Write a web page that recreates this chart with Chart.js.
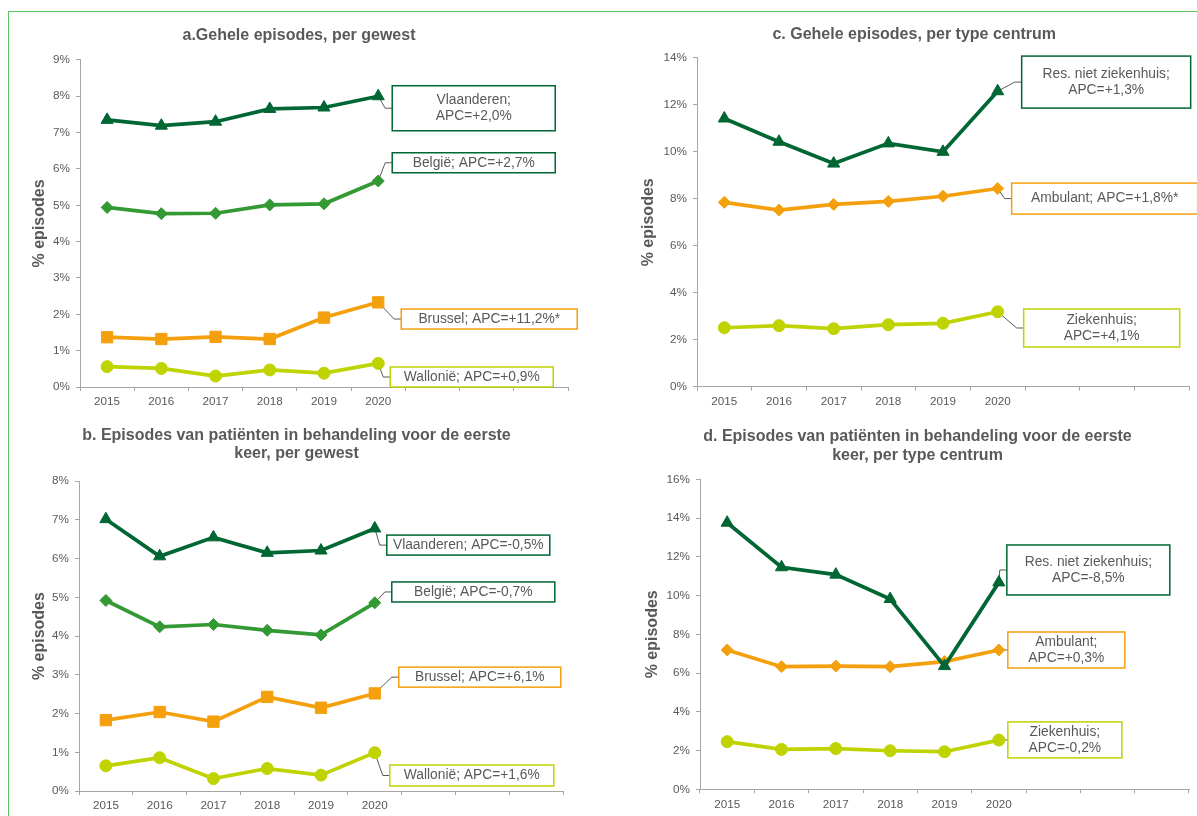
<!DOCTYPE html>
<html>
<head>
<meta charset="utf-8">
<script src="https://cdn.jsdelivr.net/npm/chart.js@4.4.1/dist/chart.umd.min.js"></script>
<style>
  html, body { margin: 0; padding: 0; background: #fff; }
  body { width: 1197px; height: 816px; position: relative; overflow: hidden; }
  #frame { position: absolute; left: 8px; top: 11px; width: 1300px; height: 900px; border: 1.5px solid #5dc05d; }
  canvas { position: absolute; }
</style>
</head>
<body>
<div id="frame"></div>
<canvas id="chartA" style="left:0px;top:14px" width="587" height="400"></canvas>
<canvas id="chartB" style="left:0px;top:420px" width="574" height="396"></canvas>
<canvas id="chartC" style="left:632px;top:14px" width="565" height="400"></canvas>
<canvas id="chartD" style="left:639px;top:420px" width="558" height="396"></canvas>
<script>
// categories (three empty slots at the end, like the original axis)
const years = ['2015', '2016', '2017', '2018', '2019', '2020', '', '', ''];

// a. Gehele episodes, per gewest
const vlaA = [7.35, 7.19, 7.30, 7.65, 7.69, 8.00];
const belA = [4.94, 4.77, 4.78, 5.01, 5.04, 5.67];
const bruA = [1.37, 1.32, 1.38, 1.32, 1.91, 2.33];
const walA = [0.56, 0.51, 0.30, 0.47, 0.38, 0.65];
const apcA = ['+2,0%', '+2,7%', '+11,2%*', '+0,9%'];

// b. eerste behandeling, per gewest
const vlaB = [7.02, 6.06, 6.55, 6.15, 6.21, 6.78];
const belB = [4.92, 4.24, 4.30, 4.15, 4.03, 4.86];
const bruB = [1.83, 2.04, 1.79, 2.43, 2.15, 2.52];
const walB = [0.65, 0.86, 0.32, 0.58, 0.41, 0.99];
const apcB = ['-0,5%', '-0,7%', '+6,1%', '+1,6%'];

// c. Gehele episodes, per type centrum
const resC = [11.42, 10.43, 9.50, 10.36, 10.00, 12.58];
const ambC = [7.85, 7.52, 7.76, 7.89, 8.11, 8.44];
const zieC = [2.51, 2.60, 2.47, 2.64, 2.70, 3.19];
const apcC = ['+1,3%', '+1,8%*', '+4,1%'];

// d. eerste behandeling, per type centrum
const resD = [13.76, 11.46, 11.08, 9.82, 6.36, 10.68];
const ambD = [7.19, 6.33, 6.36, 6.33, 6.59, 7.19];
const zieD = [2.46, 2.06, 2.10, 1.99, 1.94, 2.54];
const apcD = ['-8,5%', '+0,3%', '-0,2%'];

const gewesten = ['Vlaanderen', 'België', 'Brussel', 'Wallonië'];
const centra = ['Res. niet ziekenhuis', 'Ambulant', 'Ziekenhuis'];

const darkGreen = '#006633';
const midGreen = '#339933';
const orange = '#F4A00C';
const lime = '#BFD300';
const textGray = '#595959';
const axisGray = '#A6A6A6';
const FONT = "'Liberation Sans', Arial, sans-serif";

Chart.defaults.font.family = FONT;
Chart.defaults.color = textGray;

function series(label, data, color, style, radius) {
  return {
    label: label,
    data: data,
    borderColor: color,
    backgroundColor: color,
    pointBackgroundColor: color,
    pointBorderColor: color,
    pointStyle: style,
    pointRadius: radius,
    pointHoverRadius: radius,
    pointBorderWidth: 1,
    borderWidth: 3.7,
    tension: 0
  };
}

// label boxes with a connector from the 2020 point
function callouts(items) {
  return {
    id: 'callouts',
    beforeDatasetsDraw(chart) {
      const ctx = chart.ctx;
      const ys = chart.scales.y;
      items.forEach(it => {
        const meta = chart.getDatasetMeta(it.ds);
        const pt = meta.data[meta.data.length - 1];
        const left = pt.x + it.dx;
        const cy = ys.getPixelForValue(it.y);
        ctx.save();
        ctx.strokeStyle = textGray;
        ctx.lineWidth = 1;
        ctx.beginPath();
        ctx.moveTo(pt.x, pt.y);
        ctx.lineTo(left - 7, cy);
        ctx.lineTo(left, cy);
        ctx.stroke();
        ctx.restore();
      });
    },
    afterDatasetsDraw(chart) {
      const ctx = chart.ctx;
      const ys = chart.scales.y;
      items.forEach(it => {
        const meta = chart.getDatasetMeta(it.ds);
        const pt = meta.data[meta.data.length - 1];
        const left = pt.x + it.dx;
        const cy = ys.getPixelForValue(it.y);
        const top = cy - it.h / 2;
        ctx.save();
        ctx.fillStyle = '#fff';
        ctx.fillRect(left, top, it.w, it.h);
        ctx.strokeStyle = it.color;
        ctx.lineWidth = 1.5;
        ctx.strokeRect(left, top, it.w, it.h);
        ctx.fillStyle = textGray;
        ctx.font = '13.8px ' + FONT;
        ctx.textAlign = 'center';
        ctx.textBaseline = 'middle';
        const lh = 15.8;
        it.lines.forEach((ln, i) => {
          ctx.fillText(ln, left + it.w / 2, cy + (i - (it.lines.length - 1) / 2) * lh);
        });
        ctx.restore();
      });
    }
  };
}

function makeChart(id, g) {
  new Chart(document.getElementById(id), {
    type: 'line',
    data: { labels: years, datasets: g.datasets },
    options: {
      responsive: false,
      animation: false,
      layout: { padding: { left: g.padLeft, right: g.padRight, top: 0, bottom: 0 } },
      plugins: {
        legend: { display: false },
        tooltip: { enabled: false },
        title: {
          display: true,
          text: g.title,
          color: textGray,
          font: { size: 16, weight: 'bold', lineHeight: 1.15 },
          padding: { top: g.titleTop, bottom: g.titleBottom }
        }
      },
      scales: {
        x: {
          offset: true,
          grid: { offset: true, drawOnChartArea: false, drawTicks: true, tickLength: 4, color: axisGray },
          border: { display: true, color: axisGray, width: 1 },
          ticks: { autoSkip: false, maxRotation: 0, padding: 4, color: textGray, font: { size: 11.7 } },
          afterFit(s) { s.height = g.xHeight; }
        },
        y: {
          min: 0,
          max: g.max,
          grid: { drawOnChartArea: false, drawTicks: true, tickLength: 4, color: axisGray },
          border: { display: true, color: axisGray, width: 1 },
          ticks: { stepSize: g.step, padding: 6, color: textGray, font: { size: 11.7 },
                   callback: v => v + '%' },
          title: { display: true, text: '% episodes', color: textGray, padding: 0,
                   font: { size: 16, weight: 'bold' } },
          afterFit(s) { s.width = g.yWidth; }
        }
      }
    },
    plugins: [callouts(g.boxes)]
  });
}

makeChart('chartA', {
  title: 'a.Gehele episodes, per gewest',
  max: 9, step: 1,
  padLeft: 30, yWidth: 50, padRight: 19, titleTop: 12, titleBottom: 15.5, xHeight: 27,
  datasets: [
    series(gewesten[0], vlaA, darkGreen, 'triangle', 7),
    series(gewesten[1], belA, midGreen, 'rectRot', 6),
    series(gewesten[2], bruA, orange, 'rect', 8),
    series(gewesten[3], walA, lime, 'circle', 6)
  ],
  boxes: [
    { ds: 0, lines: [gewesten[0] + ';', 'APC=' + apcA[0]], y: 7.67, w: 163, h: 45, dx: 14, color: darkGreen },
    { ds: 1, lines: [gewesten[1] + '; APC=' + apcA[1]], y: 6.17, w: 163, h: 20, dx: 14, color: darkGreen },
    { ds: 2, lines: [gewesten[2] + '; APC=' + apcA[2]], y: 1.87, w: 176, h: 20, dx: 23, color: orange },
    { ds: 3, lines: [gewesten[3] + '; APC=' + apcA[3]], y: 0.275, w: 163, h: 20, dx: 12, color: lime }
  ]
});

makeChart('chartB', {
  title: ['b. Episodes van patiënten in behandeling voor de eerste', 'keer, per gewest'],
  max: 8, step: 1,
  padLeft: 30, yWidth: 49, padRight: 11, titleTop: 6, titleBottom: 18.4, xHeight: 25,
  datasets: [
    series(gewesten[0], vlaB, darkGreen, 'triangle', 7),
    series(gewesten[1], belB, midGreen, 'rectRot', 6),
    series(gewesten[2], bruB, orange, 'rect', 8),
    series(gewesten[3], walB, lime, 'circle', 6)
  ],
  boxes: [
    { ds: 0, lines: [gewesten[0] + '; APC=' + apcB[0]], y: 6.35, w: 163, h: 20, dx: 12, color: darkGreen },
    { ds: 1, lines: [gewesten[1] + '; APC=' + apcB[1]], y: 5.14, w: 163, h: 20, dx: 17, color: darkGreen },
    { ds: 2, lines: [gewesten[2] + '; APC=' + apcB[2]], y: 2.94, w: 162, h: 20, dx: 24, color: orange },
    { ds: 3, lines: [gewesten[3] + '; APC=' + apcB[3]], y: 0.40, w: 164, h: 21, dx: 15, color: lime }
  ]
});

makeChart('chartC', {
  title: 'c. Gehele episodes, per type centrum',
  max: 14, step: 2,
  padLeft: 7, yWidth: 58, padRight: 7.5, titleTop: 11, titleBottom: 14.5, xHeight: 27.3,
  datasets: [
    series(centra[0], resC, darkGreen, 'triangle', 7),
    series(centra[1], ambC, orange, 'rectRot', 6),
    series(centra[2], zieC, lime, 'circle', 6)
  ],
  boxes: [
    { ds: 0, lines: [centra[0] + ';', 'APC=' + apcC[0]], y: 12.97, w: 169, h: 52, dx: 24, color: darkGreen },
    { ds: 1, lines: [centra[1] + '; APC=' + apcC[1]], y: 8.01, w: 186, h: 31, dx: 14, color: orange },
    { ds: 2, lines: [centra[2] + ';', 'APC=' + apcC[2]], y: 2.5, w: 156, h: 38, dx: 26, color: lime }
  ]
});

makeChart('chartD', {
  title: ['d. Episodes van patiënten in behandeling voor de eerste', 'keer, per type centrum'],
  max: 16, step: 2,
  padLeft: 4, yWidth: 57, padRight: 5, titleTop: 7.5, titleBottom: 15, xHeight: 26.7,
  datasets: [
    series(centra[0], resD, darkGreen, 'triangle', 7),
    series(centra[1], ambD, orange, 'rectRot', 6),
    series(centra[2], zieD, lime, 'circle', 6)
  ],
  boxes: [
    { ds: 0, lines: [centra[0] + ';', 'APC=' + apcD[0]], y: 11.32, w: 163, h: 50, dx: 8, color: darkGreen },
    { ds: 1, lines: [centra[1] + ';', 'APC=' + apcD[1]], y: 7.19, w: 117, h: 36, dx: 9, color: orange },
    { ds: 2, lines: [centra[2] + ';', 'APC=' + apcD[2]], y: 2.55, w: 114, h: 36, dx: 9, color: lime }
  ]
});
</script>
</body>
</html>
